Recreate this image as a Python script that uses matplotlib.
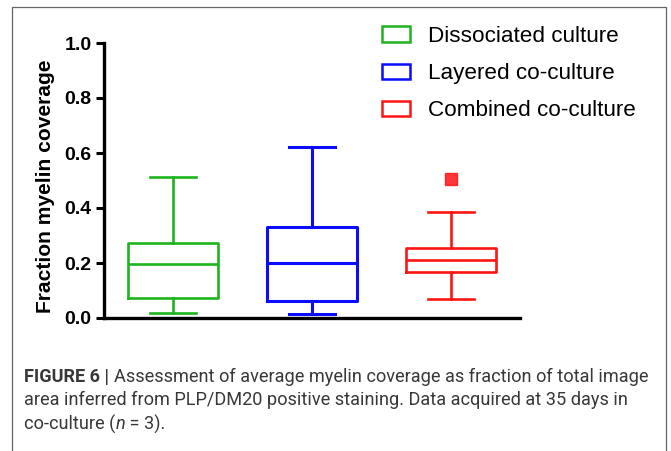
import numpy as np
import matplotlib.pyplot as plt
from matplotlib.patches import Rectangle, Patch

# data
groups = ['Dissociated culture', 'Layered co-culture', 'Combined co-culture']
colors = ['#1db41d', '#0b0bff', '#ff1414']
whis_lo = [0.020, 0.015, 0.070]
q1 = [0.072, 0.062, 0.168]
medians = [0.195, 0.200, 0.210]
q3 = [0.272, 0.332, 0.253]
whis_hi = [0.512, 0.621, 0.386]
outliers = [[], [], [0.505]]

W, H = 671, 451
fig = plt.figure(figsize=(W / 100, H / 100), dpi=100)

# frame around the whole figure panel (open at the bottom)
fig.patches.append(Rectangle((11.5 / W, -0.05), (666 - 11.5) / W, 1.05 - 6.5 / H,
                             transform=fig.transFigure, fill=False,
                             edgecolor='#666666', linewidth=0.9))

ax = fig.add_axes([104 / W, 1 - 318 / H, (520 - 104) / W, (318 - 43) / H])

stats = []
for i in range(len(groups)):
    stats.append(dict(med=medians[i], q1=q1[i], q3=q3[i],
                      whislo=whis_lo[i], whishi=whis_hi[i], fliers=outliers[i]))

for i, st in enumerate(stats):
    c = colors[i]
    lw = 1.9 if i != 1 else 2.2
    ax.bxp([st], positions=[i + 1], widths=0.65, capwidths=0.33,
           boxprops=dict(color=c, linewidth=lw),
           medianprops=dict(color=c, linewidth=lw),
           whiskerprops=dict(color=c, linewidth=lw),
           capprops=dict(color=c, linewidth=lw),
           flierprops=dict(marker='s', markersize=8.5, markerfacecolor=c,
                           markeredgecolor=c, alpha=0.85),
           manage_ticks=False)

ax.set_xlim(0.5, 3.5)
ax.set_ylim(0, 1.0)
ax.set_yticks([0, 0.2, 0.4, 0.6, 0.8, 1.0])
ax.set_yticklabels(['0.0', '0.2', '0.4', '0.6', '0.8', '1.0'],
                   fontfamily='Liberation Sans', fontweight='bold', fontsize=14)
ax.set_xticks([])
ax.tick_params(axis='y', length=6, width=2.2, pad=3)
for s in ['top', 'right']:
    ax.spines[s].set_visible(False)
for s in ['left', 'bottom']:
    ax.spines[s].set_linewidth(2.4)
ax.spines['left'].set_bounds(0, 1.0)
ax.set_ylabel('Fraction myelin coverage', fontfamily='Liberation Sans',
              fontweight='bold', fontsize=15.1)
ax.yaxis.set_label_coords(-0.118, 0.48)
ax.patch.set_alpha(0)

handles = [Patch(facecolor='white', edgecolor=c, linewidth=1.8) for c in colors]
leg = fig.legend(handles, groups, loc='upper left', bbox_to_anchor=(382 / W, 1 - 26 / H),
                 frameon=False, prop={'family': 'Liberation Sans', 'size': 16.2},
                 borderpad=0, borderaxespad=0,
                 handlelength=1.25, handleheight=0.67, handletextpad=0.8,
                 labelspacing=0.72)

# caption
cap_font = 'Roboto'
cap_size = 13.1
cap_color = '#383838'
fig.canvas.draw()
renderer = fig.canvas.get_renderer()


def put_pieces(x, y, pieces):
    for txt, kw in pieces:
        t = fig.text(x / W, 1 - y / H, txt, fontfamily=cap_font, fontsize=cap_size,
                     color=cap_color, va='center', ha='left', **kw)
        bb = t.get_window_extent(renderer=renderer)
        x = bb.x1


put_pieces(24, 377, [('FIGURE 6 | ', dict(fontweight='bold')),
                     ('Assessment of average myelin coverage as fraction of total image', {})])
put_pieces(24, 400, [('area inferred from PLP/DM20 positive staining. Data acquired at 35 days in', {})])
put_pieces(24, 424, [('co-culture (', {}), ('n', dict(fontstyle='italic')), (' = 3).', {})])

fig.savefig('out.png', dpi=100)
